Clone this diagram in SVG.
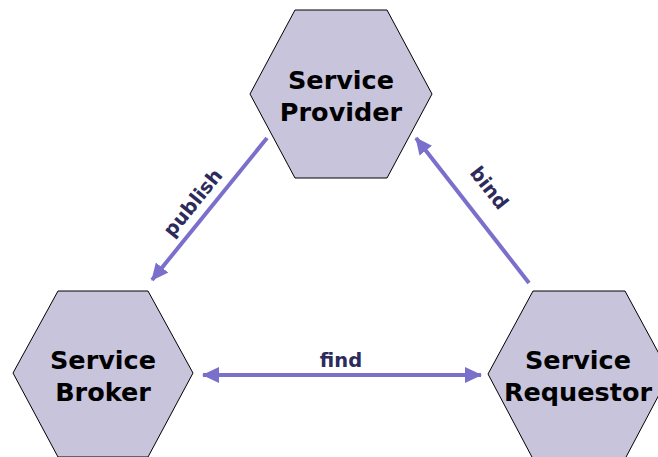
<svg xmlns="http://www.w3.org/2000/svg" width="658" height="457" viewBox="0 0 658 457">
<style>
.hex{fill:#c7c4dc;stroke:#000;stroke-width:1}
.nt{font-family:"DejaVu Sans",Verdana,sans-serif;font-weight:bold;font-size:25.5px;fill:#000;text-anchor:middle}
.lbl{font-family:"DejaVu Sans",Verdana,sans-serif;font-weight:bold;font-size:19.5px;fill:#2d2a5c;text-anchor:middle}
.con{stroke:#7a70cc;stroke-width:4;fill:none}
</style>
<defs>
<marker id="ah" markerUnits="userSpaceOnUse" markerWidth="20" markerHeight="16" refX="16" refY="8" orient="auto-start-reverse">
<path d="M0,0 L17,8 L0,16 Z" fill="#7a70cc"/>
</marker>
</defs>
<rect width="658" height="457" fill="#fff"/>
<g id="provider">
<polygon class="hex" points="295,10 387,10 432,94 387,178 295,178 250,94"/>
<text class="nt" x="341" y="89">Service</text>
<text class="nt" x="341" y="121">Provider</text>
</g>
<g id="broker">
<polygon class="hex" points="58,291 148,291 193,373 148,457 58,457 13,373"/>
<text class="nt" x="103" y="369">Service</text>
<text class="nt" x="103" y="401">Broker</text>
</g>
<g id="requestor">
<polygon class="hex" points="533,291 625,291 670,374 625,459 533,459 488,374"/>
<text class="nt" x="578" y="369">Service</text>
<text class="nt" x="578" y="401">Requestor</text>
</g>
<g id="connectors">
<line class="con" x1="267" y1="138" x2="152" y2="280" marker-end="url(#ah)"/>
<line class="con" x1="529" y1="283" x2="416" y2="138" marker-end="url(#ah)"/>
<line class="con" x1="203" y1="375" x2="481" y2="375" marker-start="url(#ah)" marker-end="url(#ah)"/>
<text class="lbl" transform="translate(198,207) rotate(-51)">publish</text>
<text class="lbl" transform="translate(484,192) rotate(52)">bind</text>
<text class="lbl" x="341" y="367">find</text>
</g>
</svg>
